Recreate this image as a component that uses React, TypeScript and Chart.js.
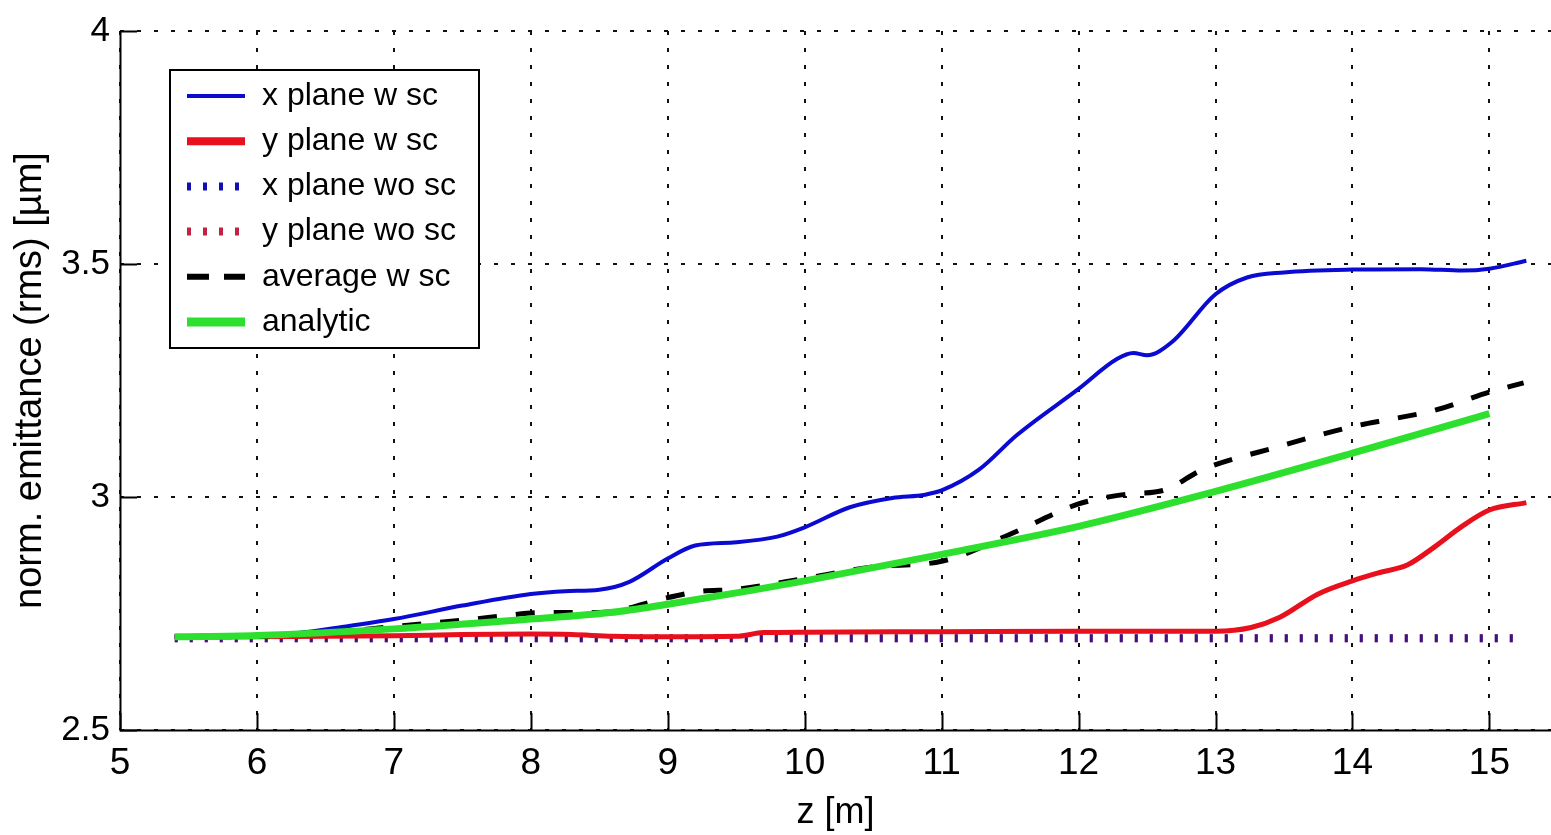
import React, { useEffect, useRef } from 'react';
import { Chart, registerables } from 'chart.js';

Chart.register(...registerables);

// ---- data ----
const zXPlaneWSc = [5.4, 6.0, 6.3, 6.6, 7.0, 7.5, 8.0, 8.25, 8.5, 8.72, 9.0, 9.2, 9.5, 9.8, 10.0, 10.33, 10.64, 10.88, 11.0, 11.27, 11.55, 12.0, 12.28, 12.4, 12.5, 12.68, 13.0, 13.23, 13.5, 14.0, 14.5, 14.8, 15.0, 15.27];
const xPlaneWSc = [2.700, 2.702, 2.708, 2.720, 2.738, 2.767, 2.792, 2.798, 2.801, 2.818, 2.868, 2.896, 2.903, 2.915, 2.935, 2.978, 2.998, 3.005, 3.014, 3.058, 3.133, 3.232, 3.296, 3.309, 3.304, 3.332, 3.435, 3.471, 3.482, 3.488, 3.489, 3.486, 3.490, 3.507];

const zYPlaneWSc = [5.4, 6.0, 7.0, 7.5, 8.0, 8.3, 8.6, 9.0, 9.5, 9.7, 10.0, 11.0, 12.0, 13.0, 13.26, 13.47, 13.75, 14.0, 14.2, 14.4, 14.6, 14.8, 15.0, 15.27];
const yPlaneWSc = [2.700, 2.700, 2.702, 2.705, 2.706, 2.705, 2.701, 2.700, 2.701, 2.709, 2.710, 2.711, 2.712, 2.712, 2.720, 2.742, 2.792, 2.820, 2.838, 2.854, 2.893, 2.937, 2.972, 2.988];

const zWoSc = [5.4, 15.2];
const xPlaneWoSc = [2.697, 2.697];
const yPlaneWoSc = [2.697, 2.697];

const zAverage = [5.4, 6.0, 6.63, 7.21, 7.52, 7.8, 8.08, 8.5, 9.0, 9.22, 9.5, 10.0, 10.5, 11.0, 11.5, 12.0, 12.35, 12.63, 12.9, 13.46, 14.0, 14.3, 14.6, 15.0, 15.25];
const averageWSc = [2.700, 2.701, 2.712, 2.728, 2.736, 2.745, 2.752, 2.752, 2.784, 2.797, 2.802, 2.825, 2.850, 2.862, 2.920, 2.985, 3.006, 3.015, 3.058, 3.108, 3.151, 3.168, 3.186, 3.225, 3.245];

const zAnalytic = [5.4, 6.0, 7.0, 8.0, 8.58, 9.0, 9.6, 10.0, 11.0, 12.0, 13.0, 14.0, 15.0];
const analytic = [2.700, 2.703, 2.717, 2.738, 2.752, 2.770, 2.799, 2.820, 2.877, 2.937, 3.012, 3.094, 3.179];

const seriesLabels = ['x plane w sc', 'y plane w sc', 'x plane wo sc', 'y plane wo sc', 'average w sc', 'analytic'];

const X_MIN = 5;
const X_MAX = 15.45;
const Y_MIN = 2.5;
const Y_MAX = 4;

const FONT = "'Liberation Sans', Arial, Helvetica, sans-serif";

const pts = (zs: number[], ys: number[]) => zs.map((z, i) => ({ x: z, y: ys[i] }));

const innerTicks = {
  id: 'innerTicks',
  afterDatasetsDraw(chart: any) {
    const { ctx, chartArea, scales } = chart;
    const xs = scales.x;
    const ys = scales.y;
    ctx.save();
    ctx.strokeStyle = '#000';
    ctx.lineWidth = 2;
    ctx.setLineDash([]);
    ctx.beginPath();
    xs.ticks.forEach((t: any) => {
      const px = Math.round(xs.getPixelForValue(t.value)) + 0.5;
      ctx.moveTo(px, chartArea.bottom);
      ctx.lineTo(px, chartArea.bottom - 17);
    });
    ys.ticks.forEach((t: any) => {
      const py = Math.round(ys.getPixelForValue(t.value)) + 0.5;
      ctx.moveTo(chartArea.left, py);
      ctx.lineTo(chartArea.left + 17, py);
    });
    ctx.stroke();
    // axes
    ctx.beginPath();
    ctx.moveTo(chartArea.left + 0.5, chartArea.top);
    ctx.lineTo(chartArea.left + 0.5, chartArea.bottom + 0.5);
    ctx.lineTo(chartArea.right, chartArea.bottom + 0.5);
    ctx.stroke();
    ctx.restore();
  },
};

const boxLegend = {
  id: 'boxLegend',
  afterDraw(chart: any) {
    const { ctx, chartArea } = chart;
    const bx = chartArea.left + 50;
    const by = chartArea.top + 39;
    const bw = 309;
    const bh = 278;
    ctx.save();
    ctx.fillStyle = '#fff';
    ctx.fillRect(bx, by, bw, bh);
    ctx.strokeStyle = '#000';
    ctx.lineWidth = 2;
    ctx.setLineDash([]);
    ctx.strokeRect(bx, by, bw, bh);
    ctx.font = `32px ${FONT}`;
    ctx.textBaseline = 'middle';
    ctx.textAlign = 'left';
    const byLabel: Record<string, any> = {};
    chart.data.datasets.forEach((d: any) => { byLabel[d.label] = d; });
    seriesLabels.forEach((lab, i) => {
      const d = byLabel[lab];
      const cy = by + 26 + i * 45.2;
      ctx.save();
      ctx.strokeStyle = d.legendColor || d.borderColor;
      ctx.lineWidth = d.legendWidth || d.borderWidth;
      ctx.lineCap = 'butt';
      ctx.setLineDash(d.legendDash || []);
      ctx.beginPath();
      ctx.moveTo(bx + 17, cy);
      ctx.lineTo(bx + 75, cy);
      ctx.stroke();
      ctx.restore();
      ctx.fillStyle = '#000';
      ctx.fillText(lab, bx + 92, cy);
    });
    ctx.restore();
  },
};

export default function App() {
  const ref = useRef<HTMLCanvasElement | null>(null);

  useEffect(() => {
    document.body.style.margin = '0';
    if (!ref.current) return;
    const chart = new Chart(ref.current, {
      type: 'line',
      data: {
        datasets: [
          {
            label: seriesLabels[5],
            data: pts(zAnalytic, analytic),
            borderColor: '#2ee02e',
            borderWidth: 7,
            legendWidth: 9,
            order: 0,
          } as any,
          {
            label: seriesLabels[4],
            data: pts(zAverage, averageWSc),
            borderColor: '#000000',
            borderWidth: 5,
            borderDash: [19, 19],
            legendWidth: 6,
            legendDash: [22, 15],
            order: 1,
          } as any,
          {
            label: seriesLabels[0],
            data: pts(zXPlaneWSc, xPlaneWSc),
            borderColor: '#0a0ad2',
            borderWidth: 4,
            legendWidth: 4,
            order: 2,
          } as any,
          {
            label: seriesLabels[1],
            data: pts(zYPlaneWSc, yPlaneWSc),
            borderColor: '#e8101c',
            borderWidth: 5,
            legendWidth: 8,
            order: 3,
          } as any,
          {
            label: seriesLabels[2],
            data: pts(zWoSc, xPlaneWoSc),
            borderColor: 'rgba(20,10,150,0.8)',
            legendColor: '#1010b0',
            borderWidth: 8,
            borderDash: [3, 12],
            borderCapStyle: 'butt',
            legendWidth: 8,
            legendDash: [4, 12],
            order: 4,
          } as any,
          {
            label: seriesLabels[3],
            data: pts(zWoSc, yPlaneWoSc),
            borderColor: 'rgba(200,20,40,0.85)',
            legendColor: '#c42040',
            borderWidth: 8,
            borderDash: [3, 12],
            borderCapStyle: 'butt',
            legendWidth: 8,
            legendDash: [4, 12],
            order: 5,
          } as any,
        ],
      },
      options: {
        animation: false,
        responsive: false,
        maintainAspectRatio: false,
        parsing: false as any,
        elements: {
          point: { radius: 0, hoverRadius: 0 },
          line: { tension: 0.4, cubicInterpolationMode: 'monotone', fill: false },
        },
        layout: { padding: { left: 0, top: 27, right: 0, bottom: 0 } },
        plugins: {
          legend: { display: false },
          tooltip: { enabled: false },
          title: { display: false },
        },
        scales: {
          x: {
            type: 'linear',
            min: X_MIN,
            max: X_MAX,
            afterFit: (s: any) => { s.height = 105; },
            ticks: {
              stepSize: 1,
              includeBounds: false,
              color: '#000',
              padding: 12,
              font: { family: FONT, size: 37 },
              maxRotation: 0,
              autoSkip: false,
              callback: (v: any) => String(Number(v)),
            },
            grid: {
              color: '#111',
              lineWidth: 2,
              drawTicks: false,
            },
            border: { display: false, dash: [4, 13] },
            title: {
              display: true,
              text: 'z [m]',
              color: '#000',
              font: { family: FONT, size: 36 },
              padding: { top: 0, bottom: 0 },
            },
          } as any,
          y: {
            type: 'linear',
            min: Y_MIN,
            max: Y_MAX,
            afterFit: (s: any) => { s.width = 120; },
            ticks: {
              stepSize: 0.5,
              includeBounds: false,
              color: '#000',
              padding: 10,
              font: { family: FONT, size: 35 },
              callback: (v: any) => String(Number(v)),
            },
            grid: {
              color: '#111',
              lineWidth: 2,
              drawTicks: false,
            },
            border: { display: false, dash: [4, 13] },
            title: {
              display: true,
              text: 'norm. emittance (rms) [µm]',
              color: '#000',
              font: { family: FONT, size: 38 },
              padding: { top: 8, bottom: 0 },
            },
          } as any,
        },
      } as any,
      plugins: [innerTicks, boxLegend],
    });
    return () => chart.destroy();
  }, []);

  return (
    <div style={{ width: 1551, height: 835, overflow: 'hidden', background: '#fff' }}>
      <canvas ref={ref} width={1551} height={835} style={{ display: 'block' }} />
    </div>
  );
}
